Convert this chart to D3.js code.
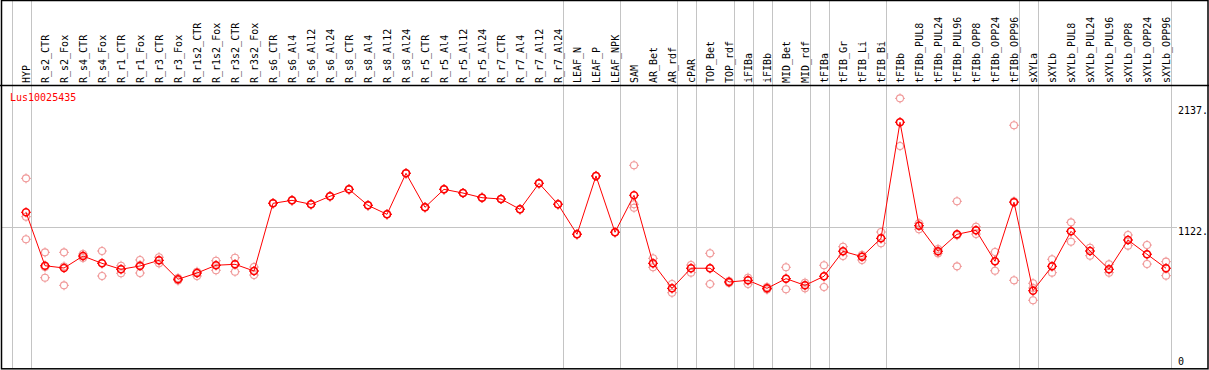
<!DOCTYPE html>
<html><head><meta charset="utf-8">
<script src="https://cdn.jsdelivr.net/npm/d3@7"></script>
<style>body{margin:0;background:#fff}svg{display:block}</style>
</head><body>
<script>
const title = "Lus10025435";
const categories = ["HYP","R_s2_CTR","R_s2_Fox","R_s4_CTR","R_s4_Fox","R_r1_CTR","R_r1_Fox","R_r3_CTR","R_r3_Fox","R_r1s2_CTR","R_r1s2_Fox","R_r3s2_CTR","R_r3s2_Fox","R_s6_CTR","R_s6_Al4","R_s6_Al12","R_s6_Al24","R_s8_CTR","R_s8_Al4","R_s8_Al12","R_s8_Al24","R_r5_CTR","R_r5_Al4","R_r5_Al12","R_r5_Al24","R_r7_CTR","R_r7_Al4","R_r7_Al12","R_r7_Al24","LEAF_N","LEAF_P","LEAF_NPK","SAM","AR_Bet","AR_rdf","cPAR","TOP_Bet","TOP_rdf","iFIBa","iFIBb","MID_Bet","MID_rdf","tFIBa","tFIB_Gr","tFIB_Li","tFIB_Bi","tFIBb","tFIBb_PUL8","tFIBb_PUL24","tFIBb_PUL96","tFIBb_OPP8","tFIBb_OPP24","tFIBb_OPP96","sXYLa","sXYLb","sXYLb_PUL8","sXYLb_PUL24","sXYLb_PUL96","sXYLb_OPP8","sXYLb_OPP24","sXYLb_OPP96"];
const means = [1248,801,782,882,821,771,799,846,688,740,805,813,757,1323,1348,1315,1382,1440,1306,1231,1574,1290,1440,1409,1370,1359,1273,1490,1315,1064,1552,1081,1390,821,612,780,780,665,679,612,693,637,713,922,877,1030,2001,1136,922,1064,1097,838,1332,592,796,1089,924,771,1016,897,780];
const rep1 = [1532,913,913,899,924,801,849,872,698,751,843,868,790,1323,1348,1315,1382,1440,1306,1231,1574,1290,1440,1409,1370,1359,1273,1490,1315,1064,1552,1081,1641,863,648,807,905,673,701,623,788,659,805,960,891,1083,2201,1156,941,1340,1127,916,1976,654,855,1164,952,813,1058,974,835];
const rep2 = [1211,790,795,882,824,774,807,846,688,740,805,813,757,1323,1348,1315,1382,1440,1306,1231,1574,1290,1440,1409,1370,1359,1273,1490,1315,1064,1552,1081,1315,821,612,780,780,665,679,612,693,637,713,922,877,1030,2001,1136,922,1056,1097,838,1339,615,796,1089,924,771,1016,897,780];
const rep3 = [1022,701,637,866,715,738,740,821,677,715,763,751,723,1323,1348,1315,1382,1440,1306,1231,1574,1290,1440,1409,1370,1359,1273,1490,1315,1064,1552,1081,1286,788,575,743,648,657,648,602,604,612,623,882,849,989,1802,1106,905,796,1066,759,679,512,743,1002,885,743,969,815,718];
const groupStarts = ["HYP","R_s2_CTR","LEAF_N","SAM","cPAR","TOP_Bet","iFIBa","iFIBb","MID_Bet","tFIBa","tFIB_Gr","tFIBb","sXYLa","sXYLb"];
const yTickValues = [0, 1122, 2137];
const yTickLabels = ["0", "1122.", "2137."];
const gridValues = [1122];

const W = 1209, H = 370;
const svg = d3.select("body").append("svg").attr("width", W).attr("height", H);
svg.append("rect").attr("width", W).attr("height", H).attr("fill", "#fff");

const x = d3.scalePoint().domain(categories).range([26, 1166]);
const y = d3.scaleLinear().domain([0, 2137]).range([361.5, 106]);
const font = "'DejaVu Sans Mono', monospace";
const grey = "#c4c4c4";

// group separators
const seps = groupStarts.map(c => Math.round(x(c) - 14.5) + 0.5);
seps.push(Math.round(x(categories[categories.length - 1]) + 4.5) + 0.5);
svg.selectAll("line.sep").data(seps).enter().append("line")
  .attr("x1", d => d).attr("x2", d => d).attr("y1", 0).attr("y2", 368)
  .attr("stroke", grey).attr("stroke-width", 1);

// horizontal grid
svg.selectAll("line.grid").data(gridValues).enter().append("line")
  .attr("x1", 2).attr("x2", 1177).attr("y1", d => Math.round(y(d)) + 0.5).attr("y2", d => Math.round(y(d)) + 0.5)
  .attr("stroke", grey).attr("stroke-width", 1);

// header line and border
svg.append("line").attr("x1", 0).attr("x2", W).attr("y1", 85.5).attr("y2", 85.5).attr("stroke", "#000").attr("stroke-width", 1.3);
svg.append("rect").attr("x", 1.5).attr("y", 0.5).attr("width", 1206.5).attr("height", 368.3)
  .attr("fill", "none").attr("stroke", "#000").attr("stroke-width", 1.5);

// category labels
svg.selectAll("text.cat").data(categories).enter().append("text")
  .attr("transform", d => `translate(${x(d)},83) rotate(-90)`)
  .attr("dy", "0.35em").attr("text-anchor", "start")
  .attr("font-family", font).attr("font-size", 10).attr("fill", "#000")
  .text(d => d);

// y labels
svg.selectAll("text.yt").data(yTickValues).enter().append("text")
  .attr("x", 1178).attr("y", d => Math.min(y(d) + 8, 365))
  .attr("font-family", font).attr("font-size", 10).attr("fill", "#000")
  .text((d, i) => yTickLabels[i]);

// title
svg.append("text").attr("x", 10).attr("y", 101).attr("font-family", font).attr("font-size", 10)
  .attr("fill", "#ff0000").text(title);

function marker(g, cx, cy, color, sw) {
  const r = 3.5;
  g.append("circle").attr("cx", cx).attr("cy", cy).attr("r", r)
    .attr("fill", "none").attr("stroke", color).attr("stroke-width", sw);
  g.append("path")
    .attr("d", `M${cx},${cy - r - 1.5}v2M${cx},${cy + r - 0.5}v2M${cx - r - 1.5},${cy}h2M${cx + r - 0.5},${cy}h2`)
    .attr("stroke", color).attr("stroke-width", 1).attr("fill", "none");
}

// replicates
const reps = [rep1, rep2, rep3];
const gR = svg.append("g");
reps.forEach(arr => arr.forEach((v, i) => marker(gR, x(categories[i]), y(v), "#f09a9a", 1.1)));

// mean line
const line = d3.line().x((d, i) => x(categories[i])).y(d => y(d));
svg.append("path").datum(means).attr("d", line).attr("fill", "none").attr("stroke", "#ff0000").attr("stroke-width", 1);

const gM = svg.append("g");
means.forEach((v, i) => marker(gM, x(categories[i]), y(v), "#ff0000", 1.5));
</script>
</body></html>
